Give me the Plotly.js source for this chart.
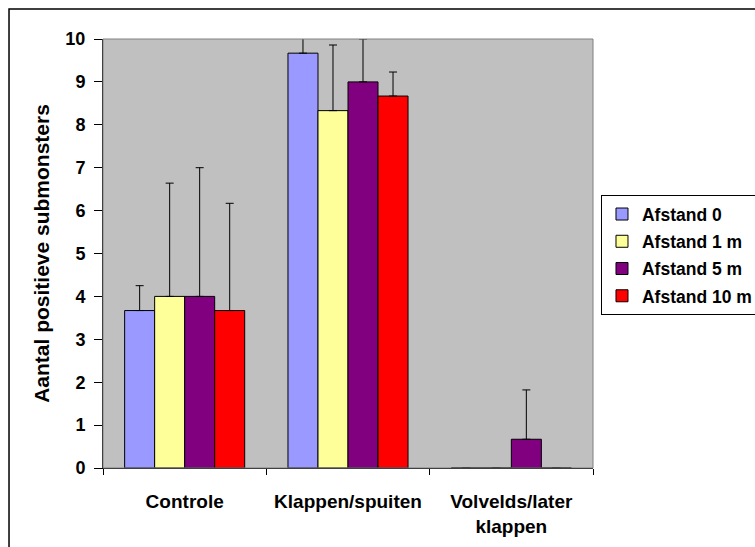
<!DOCTYPE html>
<html>
<head>
<meta charset="utf-8">
<script src="https://cdn.plot.ly/plotly-3.0.1.min.js"></script>
<style>html,body{margin:0;padding:0;background:#fff;}#chart{width:755px;height:547px;}</style>
</head>
<body>
<div id="chart"></div>
<script>
const categories = ["Controle", "Klappen/spuiten", "Volvelds/later<br>klappen"];
const seriesNames = ["Afstand 0", "Afstand 1 m", "Afstand 5 m", "Afstand 10 m"];
const afstand0 = [3.67, 9.67, 0];
const afstand1 = [4.0, 8.33, 0];
const afstand5 = [4.0, 9.0, 0.67];
const afstand10 = [3.67, 8.67, 0];
const err0 = [0.58, 0.4, 0];
const err1 = [2.64, 1.53, 0];
const err5 = [3.0, 1.0, 1.15];
const err10 = [2.5, 0.56, 0];
const colors = ["#9999FF", "#FFFF99", "#800080", "#FF0000"];

const values = [afstand0, afstand1, afstand5, afstand10];
const errors = [err0, err1, err5, err10];
const FONT = "Liberation Sans, Arial, sans-serif";

const traces = values.map((v, i) => ({
  type: "bar",
  name: seriesNames[i],
  x: categories,
  y: v,
  legendgroup: "g" + i,
  marker: {color: colors[i], line: {color: "#000", width: 1}},
  error_y: {type: "data", symmetric: false, array: errors[i], arrayminus: errors[i].map(() => 0),
            color: "#000", thickness: 1, width: 4, visible: true},
  hoverinfo: "skip"
}));

const layout = {
  width: 755, height: 547,
  margin: {l: 103, r: 162, t: 39, b: 79, autoexpand: false},
  paper_bgcolor: "#fff",
  plot_bgcolor: "#C0C0C0",
  barmode: "group",
  bargap: 0.265,
  bargroupgap: 0,
  font: {family: FONT, size: 13, color: "#000"},
  showlegend: true,
  legend: {
    x: 1.0163, y: 0.636, xanchor: "left", yanchor: "top",
    bgcolor: "#fff", bordercolor: "#000", borderwidth: 1,
    font: {family: FONT, size: 17.5, weight: "bold"},
    tracegroupgap: 1.5
  },
  xaxis: {
    type: "category",
    tickson: "boundaries",
    ticks: "outside", ticklen: 6, tickcolor: "#000", tickwidth: 1,
    showline: true, linecolor: "#000", linewidth: 1,
    showgrid: false, zeroline: false,
    tickfont: {family: FONT, size: 19, weight: "bold"},
    ticklabelstandoff: 16,
    fixedrange: true
  },
  yaxis: {
    range: [0, 10], dtick: 1,
    ticks: "outside", ticklen: 8, tickcolor: "#000", tickwidth: 1,
    showline: true, linecolor: "#000", linewidth: 1,
    showgrid: false, zeroline: false,
    tickfont: {family: FONT, size: 18, weight: "bold"},
    ticklabelstandoff: 5,
    title: {text: "Aantal positieve submonsters", font: {family: FONT, size: 21, weight: "bold"}, standoff: 10},
    fixedrange: true
  },
  shapes: [
    {type: "rect", xref: "paper", yref: "paper", x0: 0, x1: 1, y0: 0, y1: 1,
     line: {color: "#808080", width: 1}, layer: "above"},
    {type: "rect", xref: "paper", yref: "paper", x0: -0.1918, x1: 1.5, y0: -0.3, y1: 1.0699,
     line: {color: "#000", width: 1.5}, layer: "below"}
  ]
};

Plotly.newPlot("chart", traces, layout, {displayModeBar: false, staticPlot: true});
</script>
</body>
</html>
